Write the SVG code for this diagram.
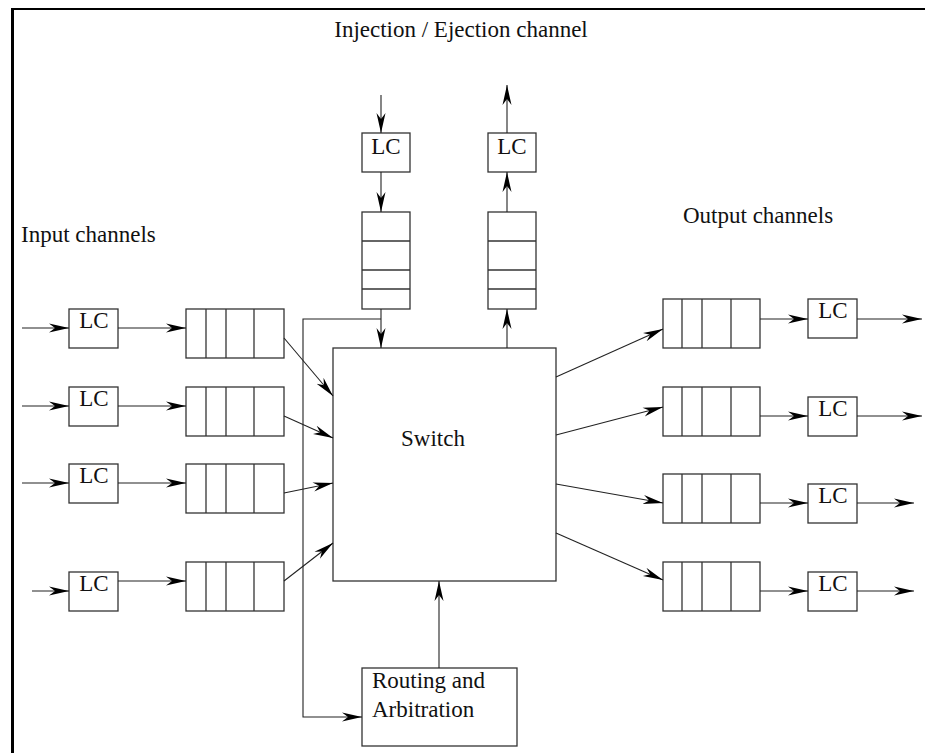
<svg xmlns="http://www.w3.org/2000/svg" width="925" height="753" viewBox="0 0 925 753">
  <style>
    .box { fill: #fff; stroke: #333; stroke-width: 1.3; }
    .div { stroke: #333; stroke-width: 1.3; }
    .arr { fill: none; stroke: #222; stroke-width: 1.1; marker-end: url(#head); }
    .t { font-family: "Liberation Serif", "DejaVu Serif", serif; font-size: 23px; fill: #111; }
    .lc { text-anchor: middle; }
  </style>
  <defs>
    <marker id="head" markerUnits="userSpaceOnUse" markerWidth="22" markerHeight="11" refX="20" refY="5" orient="auto">
      <path d="M0,0.5 L20,5 L0,9.5 L6,5 z" fill="#000"/>
    </marker>
  </defs>
  <rect width="925" height="753" fill="#fff"/>

  <!-- frame -->
  <g id="frame">
    <line x1="12.5" y1="8" x2="12.5" y2="753" stroke="#000" stroke-width="3"/>
    <line x1="11" y1="9" x2="925" y2="9" stroke="#000" stroke-width="2.2"/>
  </g>

  <!-- labels -->
  <g id="labels">
    <text class="t" x="461" y="37" text-anchor="middle">Injection / Ejection channel</text>
    <text class="t" x="21" y="242">Input channels</text>
    <text class="t" x="683" y="223">Output channels</text>
  </g>

  <!-- injection / ejection -->
  <g id="lc-inject"><rect class="box" x="362" y="133" width="48" height="39"/><text class="t lc" x="386" y="154">LC</text></g>
  <g id="lc-eject"><rect class="box" x="488" y="133" width="48" height="39"/><text class="t lc" x="512" y="154">LC</text></g>
  <g id="q-inject">
    <rect class="box" x="362" y="212" width="48" height="97"/>
    <line class="div" x1="362" y1="241" x2="410" y2="241"/>
    <line class="div" x1="362" y1="270" x2="410" y2="270"/>
    <line class="div" x1="362" y1="289" x2="410" y2="289"/>
  </g>
  <g id="q-eject">
    <rect class="box" x="488" y="212" width="48" height="97"/>
    <line class="div" x1="488" y1="241" x2="536" y2="241"/>
    <line class="div" x1="488" y1="270" x2="536" y2="270"/>
    <line class="div" x1="488" y1="289" x2="536" y2="289"/>
  </g>

  <!-- switch -->
  <g id="switch"><rect class="box" x="333" y="348" width="223" height="233"/><text class="t" x="401" y="446">Switch</text></g>

  <!-- routing -->
  <g id="routing">
    <rect class="box" x="362" y="668" width="155" height="78"/>
    <text class="t" x="372" y="688">Routing and</text>
    <text class="t" x="372" y="717">Arbitration</text>
  </g>

  <!-- input channels -->
  <g id="lc-in1"><rect class="box" x="69" y="309" width="49" height="39"/><text class="t lc" x="94" y="328">LC</text></g>
  <g id="lc-in2"><rect class="box" x="69" y="387" width="49" height="39"/><text class="t lc" x="94" y="406">LC</text></g>
  <g id="lc-in3"><rect class="box" x="69" y="464" width="49" height="39"/><text class="t lc" x="94" y="483">LC</text></g>
  <g id="lc-in4"><rect class="box" x="69" y="572" width="49" height="39"/><text class="t lc" x="94" y="591">LC</text></g>

  <g id="q-in1"><rect class="box" x="186" y="309" width="98" height="49"/><line class="div" x1="206" y1="309" x2="206" y2="358"/><line class="div" x1="226" y1="309" x2="226" y2="358"/><line class="div" x1="254" y1="309" x2="254" y2="358"/></g>
  <g id="q-in2"><rect class="box" x="186" y="387" width="98" height="49"/><line class="div" x1="206" y1="387" x2="206" y2="436"/><line class="div" x1="226" y1="387" x2="226" y2="436"/><line class="div" x1="254" y1="387" x2="254" y2="436"/></g>
  <g id="q-in3"><rect class="box" x="186" y="464" width="98" height="49"/><line class="div" x1="206" y1="464" x2="206" y2="513"/><line class="div" x1="226" y1="464" x2="226" y2="513"/><line class="div" x1="254" y1="464" x2="254" y2="513"/></g>
  <g id="q-in4"><rect class="box" x="186" y="562" width="98" height="49"/><line class="div" x1="206" y1="562" x2="206" y2="611"/><line class="div" x1="226" y1="562" x2="226" y2="611"/><line class="div" x1="254" y1="562" x2="254" y2="611"/></g>

  <!-- output channels -->
  <g id="q-out1"><rect class="box" x="663" y="299" width="97" height="49"/><line class="div" x1="682" y1="299" x2="682" y2="348"/><line class="div" x1="702" y1="299" x2="702" y2="348"/><line class="div" x1="731" y1="299" x2="731" y2="348"/></g>
  <g id="q-out2"><rect class="box" x="663" y="387" width="97" height="49"/><line class="div" x1="682" y1="387" x2="682" y2="436"/><line class="div" x1="702" y1="387" x2="702" y2="436"/><line class="div" x1="731" y1="387" x2="731" y2="436"/></g>
  <g id="q-out3"><rect class="box" x="663" y="474" width="97" height="49"/><line class="div" x1="682" y1="474" x2="682" y2="523"/><line class="div" x1="702" y1="474" x2="702" y2="523"/><line class="div" x1="731" y1="474" x2="731" y2="523"/></g>
  <g id="q-out4"><rect class="box" x="663" y="562" width="97" height="49"/><line class="div" x1="682" y1="562" x2="682" y2="611"/><line class="div" x1="702" y1="562" x2="702" y2="611"/><line class="div" x1="731" y1="562" x2="731" y2="611"/></g>

  <g id="lc-out1"><rect class="box" x="808" y="299" width="49" height="39"/><text class="t lc" x="833" y="318">LC</text></g>
  <g id="lc-out2"><rect class="box" x="808" y="397" width="49" height="39"/><text class="t lc" x="833" y="416">LC</text></g>
  <g id="lc-out3"><rect class="box" x="808" y="484" width="49" height="39"/><text class="t lc" x="833" y="503">LC</text></g>
  <g id="lc-out4"><rect class="box" x="808" y="572" width="49" height="39"/><text class="t lc" x="833" y="591">LC</text></g>

  <!-- connectors -->
  <g id="connectors">
    <line class="arr" x1="381" y1="95" x2="381" y2="133"/>
    <line class="arr" x1="381" y1="172" x2="381" y2="212"/>
    <line class="arr" x1="381" y1="309" x2="381" y2="348"/>
    <line class="arr" x1="507" y1="133" x2="507" y2="85"/>
    <line class="arr" x1="507" y1="212" x2="507" y2="172"/>
    <line class="arr" x1="507" y1="348" x2="507" y2="309"/>
    <polyline class="arr" points="381,319 303,319 303,717 362,717"/>
    <line class="arr" x1="439" y1="668" x2="439" y2="581"/>

    <line class="arr" x1="22" y1="328" x2="69" y2="328"/>
    <line class="arr" x1="118" y1="328" x2="186" y2="328"/>
    <line class="arr" x1="284" y1="338" x2="333" y2="396"/>
    <line class="arr" x1="22" y1="406" x2="69" y2="406"/>
    <line class="arr" x1="118" y1="406" x2="186" y2="406"/>
    <line class="arr" x1="284" y1="416" x2="333" y2="438"/>
    <line class="arr" x1="22" y1="483" x2="69" y2="483"/>
    <line class="arr" x1="118" y1="483" x2="186" y2="483"/>
    <line class="arr" x1="284" y1="493" x2="333" y2="483"/>
    <line class="arr" x1="32" y1="591" x2="69" y2="591"/>
    <line class="arr" x1="118" y1="581" x2="186" y2="581"/>
    <line class="arr" x1="284" y1="581" x2="333" y2="543"/>

    <line class="arr" x1="556" y1="377" x2="663" y2="329"/>
    <line class="arr" x1="760" y1="319" x2="808" y2="319"/>
    <line class="arr" x1="857" y1="319" x2="922" y2="319"/>
    <line class="arr" x1="556" y1="435" x2="663" y2="407"/>
    <line class="arr" x1="760" y1="416" x2="808" y2="416"/>
    <line class="arr" x1="857" y1="416" x2="922" y2="416"/>
    <line class="arr" x1="556" y1="484" x2="663" y2="503"/>
    <line class="arr" x1="760" y1="503" x2="808" y2="503"/>
    <line class="arr" x1="857" y1="503" x2="914" y2="503"/>
    <line class="arr" x1="556" y1="533" x2="663" y2="580"/>
    <line class="arr" x1="760" y1="591" x2="808" y2="591"/>
    <line class="arr" x1="857" y1="591" x2="914" y2="591"/>
  </g>
</svg>
